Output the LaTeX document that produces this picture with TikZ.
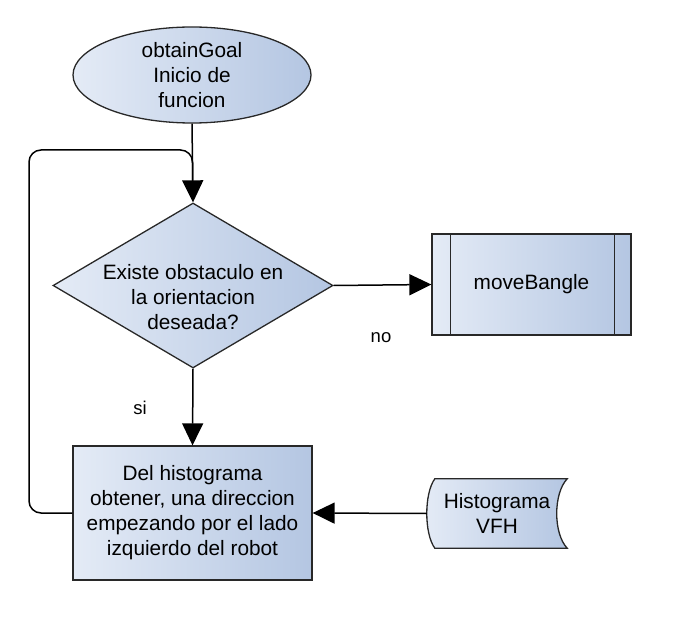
\documentclass[tikz,border=0pt]{standalone}
\usepackage{fontspec}
\setmainfont{Liberation Sans}
\usetikzlibrary{shapes.geometric,arrows.meta,calc}
\definecolor{fillL}{RGB}{228,235,246}
\definecolor{fillR}{RGB}{180,198,226}
\definecolor{edge}{RGB}{40,40,40}
\begin{document}
\begin{tikzpicture}[x=1pt,y=-1pt,
  every node/.style={font=\fontsize{20.8}{25}\selectfont, align=center, text=black},
  shade/.style={draw=edge, line width=1.3pt, left color=fillL, right color=fillR},
  startend/.style={shade, ellipse, minimum width=238pt, minimum height=96pt, inner sep=0pt},
  decision/.style={shade, diamond, minimum width=280pt, minimum height=165pt, inner sep=0pt},
  procbox/.style={shade, rectangle, minimum width=239pt, minimum height=134pt, inner sep=0pt},
  subproc/.style={shade, rectangle, minimum width=199pt, minimum height=101pt, inner sep=0pt},
  conn/.style={draw=black, line width=1.5pt},
  arr/.style={conn, -{Triangle[length=22pt,width=21pt]}},
  lbl/.style={font=\fontsize{18.5}{22}\selectfont}
]
\useasboundingbox (0,0) rectangle (674,620);

\node[startend] (start) at (192,75) {obtainGoal\\Inicio de\\funcion};
\node[decision] (dec) at (193,285.5) {};
\node (dectext) at (193,297) {Existe obstaculo en\\la orientacion\\deseada?};
\node[subproc] (move) at (531.5,284.5) {moveBangle};
\draw[edge, line width=1.3pt] ($(move.north west)+(19,0)$) -- ($(move.south west)+(19,0)$);
\draw[edge, line width=1.3pt] ($(move.north east)+(-17,0)$) -- ($(move.south east)+(-17,0)$);
\node[procbox] (proc) at (192.5,513) {Del histograma\\obtener, una direccion\\empezando por el lado\\izquierdo del robot};

\node[minimum width=140pt, minimum height=69pt, inner sep=0pt] (hist) at (497,513.5) {};
\path[shade] ($(hist.north west)+(8,0)$) .. controls ($(hist.west)+(-2.7,-20)$) and ($(hist.west)+(-2.7,20)$) .. ($(hist.south west)+(8,0)$)
  -- (hist.south east) .. controls ($(hist.east)+(-14,20)$) and ($(hist.east)+(-14,-20)$) .. (hist.north east) -- cycle;
\node at (hist) {Histograma\\VFH};

\coordinate (loopleft) at (29,150);
\coordinate (join) at ($(start.south)!0.5!(dec.north)$);

\draw[arr] (start.south) -- (dec.north);
\draw[conn, rounded corners=12pt] (proc.west) -| (loopleft) -| ($(join)+(0,25)$);
\draw[arr] (dec.east) -- (move.west);
\draw[arr] (dec.south) -- (proc.north);
\draw[arr] (hist.west) -- (proc.east);

\node[lbl] (no) at (381,338) {no};
\node[lbl] (si) at (140,408) {si};
\end{tikzpicture}
\end{document}
